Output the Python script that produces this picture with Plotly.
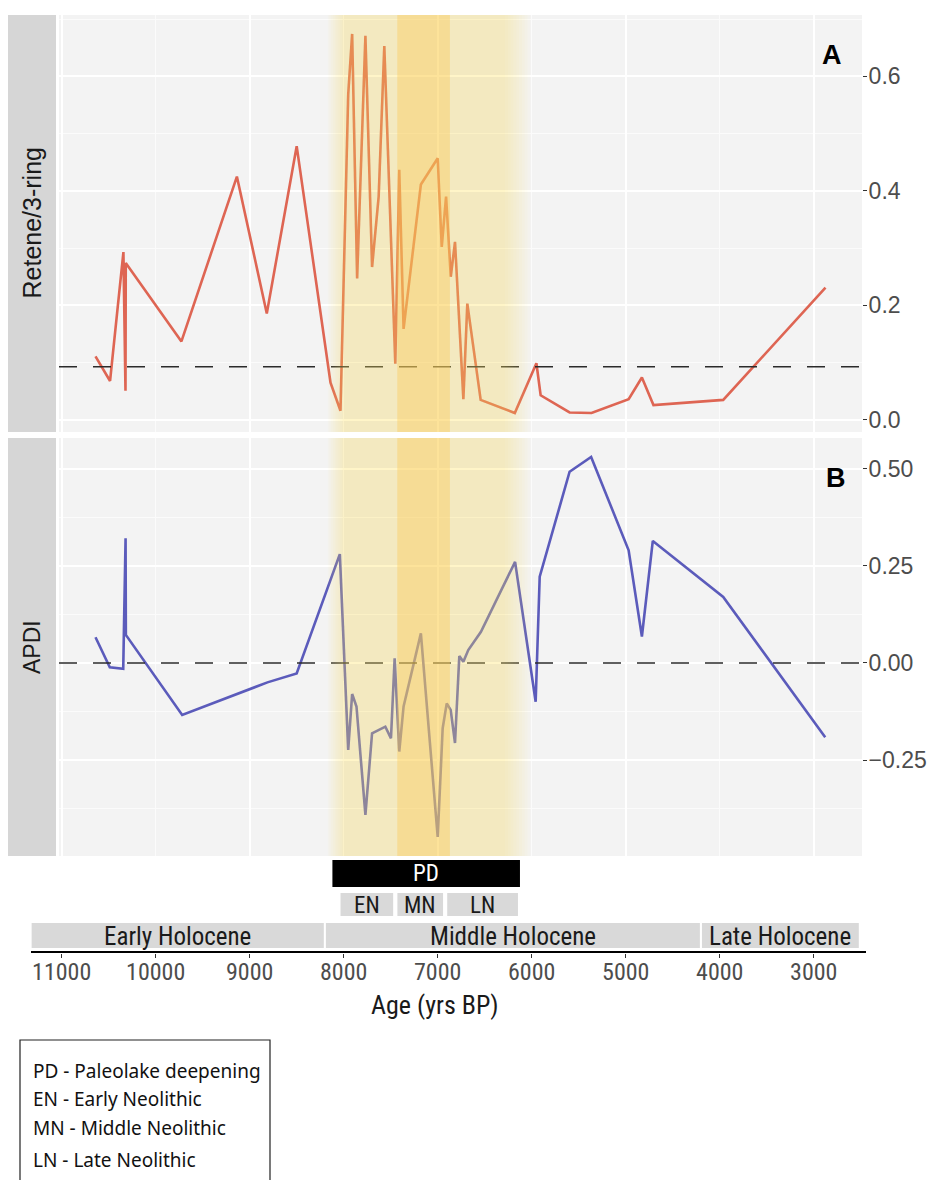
import plotly.graph_objects as go

W, H = 932, 1180

# Retene / 3-ring PAH ratio (panel A)
ret_age = [10640, 10485, 10343, 10321, 10318, 9726, 9136, 8818, 8500, 8140,
           8034, 7952, 7910, 7857, 7769, 7698, 7628, 7568, 7451, 7409,
           7363, 7179, 7000, 6957, 6911, 6861, 6816, 6727, 6685, 6543,
           6180, 5950, 5905, 5597, 5364, 4969, 4828, 4705, 3963, 2875]
ret_val = [0.111, 0.068, 0.293, 0.051, 0.274, 0.137, 0.425, 0.186, 0.478, 0.065,
           0.016, 0.568, 0.674, 0.247, 0.671, 0.267, 0.390, 0.653, 0.098, 0.437,
           0.159, 0.411, 0.457, 0.302, 0.390, 0.250, 0.311, 0.036, 0.203, 0.035,
           0.012, 0.099, 0.043, 0.013, 0.012, 0.036, 0.074, 0.026, 0.035, 0.231]
ret_ref = 0.093

# APDI (panel B)
apdi_age = [10640, 10488, 10345, 10320, 10317, 9718, 8811, 8500, 8041, 7952,
            7910, 7864, 7769, 7698, 7557, 7497, 7458, 7409, 7363, 7179,
            7000, 6947, 6904, 6862, 6816, 6770, 6727, 6675, 6540, 6177,
            5958, 5915, 5597, 5368, 4969, 4828, 4712, 3963, 2878]
apdi_val = [0.066, -0.011, -0.015, 0.321, 0.072, -0.134, -0.050, -0.027, 0.280, -0.224,
            -0.080, -0.112, -0.391, -0.181, -0.164, -0.194, 0.012, -0.228, -0.112, 0.076,
            -0.448, -0.168, -0.104, -0.121, -0.206, 0.018, 0.003, 0.033, 0.080, 0.260,
            -0.100, 0.222, 0.492, 0.530, 0.290, 0.068, 0.314, 0.170, -0.191]
apdi_ref = 0.0

# Periods (yrs BP)
pd_period = (8120, 6125)
light_band = (8085, 6150)
dark_band = (7430, 6870)
phase_names = ["EN", "MN", "LN"]
phase_spans = [(8055, 7450), (7450, 6920), (6920, 6125)]
stage_names = ["Early Holocene", "Middle Holocene", "Late Holocene"]
stage_spans = [(11330, 8200), (8200, 4200), (4200, 2510)]
age_ticks = [11000, 10000, 9000, 8000, 7000, 6000, 5000, 4000, 3000]
legend_lines = ["PD - Paleolake deepening", "EN - Early Neolithic",
                "MN - Middle Neolithic", "LN - Late Neolithic"]

RED = "#DE6553"
BLUE = "#5B5BBB"
PANEL_BG = "#F3F3F3"
STRIP = "#D6D6D6"
TICK_FONT = "Liberation Sans, Arial, Helvetica, sans-serif"
COND_FONT = "Roboto Condensed, Roboto, sans-serif"
LEG_FONT = "Noto Sans, Open Sans, sans-serif"


def px2x(px):
    return px / W


def px2y(py):
    return 1 - py / H


def expand(vals, frac=0.05):
    lo, hi = min(vals), max(vals)
    pad = (hi - lo) * frac
    return lo - pad, hi + pad


# ggplot-like 5% expansion of the data ranges
a_lo, a_hi = expand(ret_age + apdi_age)
x_range = [a_hi, a_lo]           # reversed time axis
x_dom = [px2x(59), px2x(862)]
yA_range = list(expand(ret_val))
yB_range = list(expand(apdi_val))
yA_dom = [px2y(432), px2y(15)]
yB_dom = [px2y(856), px2y(438)]


def age_to_paper(age):
    f = (x_range[0] - age) / (x_range[0] - x_range[1])
    return x_dom[0] + f * (x_dom[1] - x_dom[0])


def label(text, x, y, size, color="#1A1A1A", family=COND_FONT, xanchor="center", **kw):
    return dict(text=text, xref="paper", yref="paper", x=x, y=y, showarrow=False,
                xanchor=xanchor, yanchor="middle",
                font=dict(family=family, size=size, color=color), **kw)


fig = go.Figure()
fig.add_trace(go.Scatter(x=ret_age, y=ret_val, mode="lines", xaxis="x", yaxis="y",
                         line=dict(color=RED, width=2.6), showlegend=False, hoverinfo="skip"))
fig.add_trace(go.Scatter(x=apdi_age, y=apdi_val, mode="lines", xaxis="x2", yaxis="y2",
                         line=dict(color=BLUE, width=2.6), showlegend=False, hoverinfo="skip"))
# carrier for the shared age axis drawn below the panels
fig.add_trace(go.Scatter(x=[age_ticks[0]], y=[0.5], mode="markers", xaxis="x3", yaxis="y3",
                         marker=dict(opacity=0), showlegend=False, hoverinfo="skip"))

shapes = []
annotations = []

# dashed reference lines
for xr, yr, v in [("x", "y", ret_ref), ("x2", "y2", apdi_ref)]:
    shapes.append(dict(type="line", xref=f"{xr} domain", yref=yr, x0=0, x1=1, y0=v, y1=v,
                       line=dict(color="#2b2b2b", width=1.5, dash="18px,16px"), layer="above"))


def band(xr, yr, x0, x1, color, alpha, fade_l=0, fade_r=0, steps=10):
    if fade_l == 0 and fade_r == 0:
        shapes.append(dict(type="rect", xref=xr, yref=f"{yr} domain", x0=x0, x1=x1, y0=0, y1=1,
                           fillcolor=color, opacity=alpha, line=dict(width=0), layer="above"))
        return
    a = 1 - (1 - alpha) ** (1 / steps)
    for i in range(steps):
        t = i / (steps - 1)
        l = x0 + fade_l / 2 - fade_l * t
        r = x1 - fade_r / 2 + fade_r * t
        shapes.append(dict(type="rect", xref=xr, yref=f"{yr} domain", x0=l, x1=r, y0=0, y1=1,
                           fillcolor=color, opacity=a, line=dict(width=0), layer="above"))


for xr, yr in [("x", "y"), ("x2", "y2")]:
    band(xr, yr, light_band[0], light_band[1], "#FFDC6A", 0.32, fade_l=170, fade_r=270)
    band(xr, yr, dark_band[0], dark_band[1], "#FBC855", 0.40)

# facet strips on the left
for (y0, y1), text, size in [((15, 432), "Retene/3-ring", 25), ((438, 856), "APDI", 23)]:
    shapes.append(dict(type="rect", xref="paper", yref="paper", x0=px2x(8), x1=px2x(56),
                       y0=px2y(y1), y1=px2y(y0), fillcolor=STRIP, line=dict(width=0), layer="below"))
    annotations.append(label(text, px2x(32), px2y((y0 + y1) / 2), size, family=TICK_FONT,
                             textangle=-90))

# panel tags
annotations.append(label("<b>A</b>", px2x(832), px2y(55), 27, color="black", family=TICK_FONT))
annotations.append(label("<b>B</b>", px2x(836), px2y(478), 27, color="black", family=TICK_FONT))

# PD bar
shapes.append(dict(type="rect", xref="paper", yref="paper",
                   x0=age_to_paper(pd_period[0]), x1=age_to_paper(pd_period[1]),
                   y0=px2y(887), y1=px2y(860), fillcolor="black", line=dict(width=0)))
annotations.append(label("PD", age_to_paper(sum(pd_period) / 2), px2y(873.5), 23, color="white"))

# Neolithic phases
for name, (a0, a1) in zip(phase_names, phase_spans):
    shapes.append(dict(type="rect", xref="paper", yref="paper",
                       x0=age_to_paper(a0), x1=age_to_paper(a1),
                       y0=px2y(918), y1=px2y(891), fillcolor="#D9D9D9",
                       line=dict(width=4, color="white")))
    annotations.append(label(name, age_to_paper((a0 + a1) / 2), px2y(905), 23))

# Holocene stages
for name, (a0, a1) in zip(stage_names, stage_spans):
    shapes.append(dict(type="rect", xref="paper", yref="paper",
                       x0=age_to_paper(a0), x1=age_to_paper(a1),
                       y0=px2y(949), y1=px2y(922), fillcolor="#D9D9D9",
                       line=dict(width=2, color="white")))
    annotations.append(label(name, age_to_paper((a0 + a1) / 2), px2y(936), 25))

# bottom age axis line
shapes.append(dict(type="line", xref="paper", yref="paper", x0=px2x(31), x1=px2x(866),
                   y0=px2y(952), y1=px2y(952), line=dict(color="black", width=2.2)))
annotations.append(label("Age (yrs BP)", px2x(435), px2y(1005), 26))

# abbreviations box
shapes.append(dict(type="rect", xref="paper", yref="paper", x0=px2x(20), x1=px2x(270),
                   y0=px2y(1190), y1=px2y(1040), line=dict(color="#222", width=1.2),
                   fillcolor="white"))
for txt, yy in zip(legend_lines, [1071, 1099, 1128, 1160]):
    annotations.append(label(txt, px2x(31), px2y(yy), 19, color="#111", family=LEG_FONT,
                             xanchor="left"))

grid = dict(showgrid=True, gridcolor="white", gridwidth=1.6, zeroline=False)
minor_grid = dict(showgrid=True, gridcolor="#FBFBFB", gridwidth=1)

common_x = dict(range=x_range, domain=x_dom, showticklabels=False, ticks="",
                tickvals=[3000, 5000, 7000, 9000, 11000],
                minor=dict(tickvals=[4000, 6000, 8000, 10000], **minor_grid), **grid)

ytick = dict(side="right", ticks="outside", ticklen=4, tickcolor="#333", tickwidth=1,
             ticklabelstandoff=-3, automargin=False,
             tickfont=dict(family=TICK_FONT, size=23, color="#4D4D4D"))

fig.update_layout(
    width=W, height=H, margin=dict(l=0, r=0, t=0, b=0, autoexpand=False),
    paper_bgcolor="white", plot_bgcolor=PANEL_BG, showlegend=False,
    xaxis=dict(anchor="y", **common_x),
    xaxis2=dict(anchor="y2", **common_x),
    yaxis=dict(anchor="x", domain=yA_dom, range=yA_range, tickvals=[0, 0.2, 0.4, 0.6],
               tickformat=".1f", minor=dict(tickvals=[0.1, 0.3, 0.5, 0.7], **minor_grid),
               **grid, **ytick),
    yaxis2=dict(anchor="x2", domain=yB_dom, range=yB_range, tickvals=[-0.25, 0, 0.25, 0.5],
                tickformat=".2f", minor=dict(tickvals=[-0.375, -0.125, 0.125, 0.375], **minor_grid),
                **grid, **ytick),
    xaxis3=dict(anchor="y3", domain=x_dom, range=x_range, tickvals=age_ticks,
                ticktext=[str(t) for t in age_ticks], ticks="outside", ticklen=4,
                ticklabelstandoff=-7, automargin=False,
                tickcolor="#333", showgrid=False, zeroline=False, showline=False,
                tickfont=dict(family=COND_FONT, size=24, color="#4D4D4D")),
    yaxis3=dict(anchor="x3", domain=[px2y(953), px2y(951)], range=[0, 1], visible=False),
    shapes=shapes, annotations=annotations,
)

fig.write_html("out.html")
